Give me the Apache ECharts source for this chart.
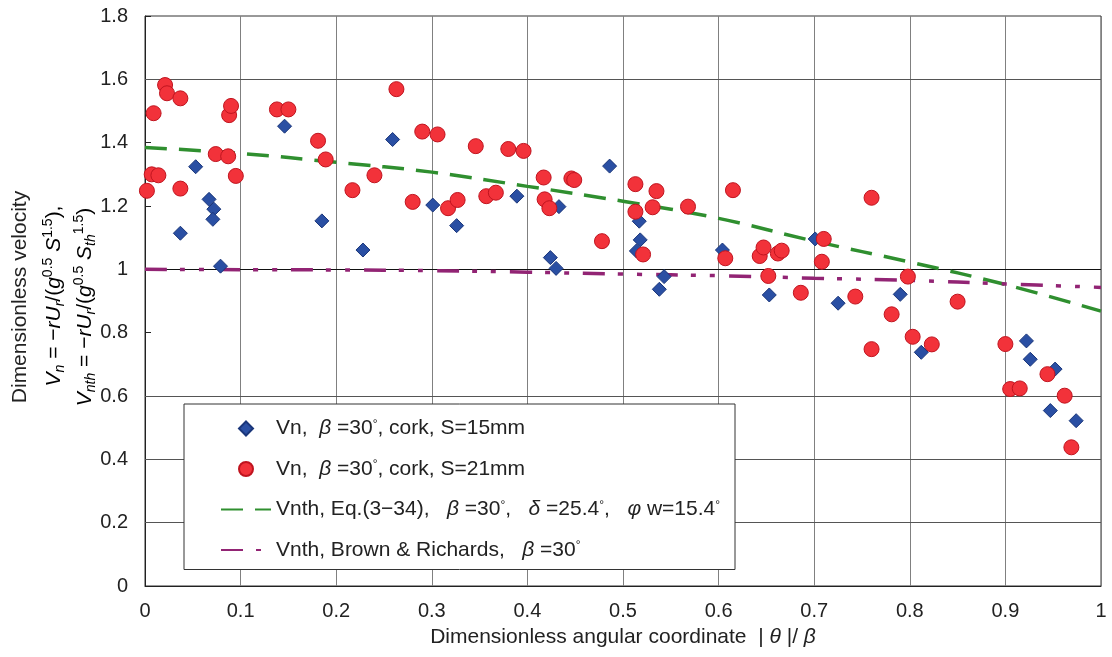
<!DOCTYPE html>
<html><head><meta charset="utf-8">
<script src="https://cdn.jsdelivr.net/npm/echarts@6/dist/echarts.min.js"></script>
<style>html,body{margin:0;padding:0;background:#fff}#c{width:1112px;height:657px}</style>
</head><body><div id="c"></div>
<script>
// ---- data ----
const vnS15 = [
  [0.037,1.114],[0.053,1.324],[0.067,1.221],[0.072,1.190],[0.071,1.158],[0.079,1.010],
  [0.146,1.452],[0.185,1.153],[0.228,1.061],[0.259,1.410],[0.301,1.203],[0.326,1.138],
  [0.389,1.231],[0.424,1.037],[0.430,1.003],[0.433,1.198],[0.486,1.326],[0.514,1.058],
  [0.517,1.152],[0.518,1.093],[0.538,0.937],[0.543,0.977],[0.604,1.061],[0.653,0.919],
  [0.701,1.096],[0.725,0.893],[0.790,0.921],[0.812,0.738],[0.922,0.774],[0.926,0.716],
  [0.947,0.554],[0.952,0.685],[0.974,0.522]
];
const vnS21 = [
  [0.002,1.248],[0.007,1.300],[0.014,1.297],[0.009,1.493],[0.021,1.582],[0.023,1.556],
  [0.037,1.540],[0.037,1.255],[0.074,1.364],[0.087,1.357],[0.088,1.487],[0.090,1.516],
  [0.095,1.295],[0.138,1.505],[0.150,1.505],[0.181,1.406],[0.189,1.347],[0.217,1.250],
  [0.240,1.297],[0.263,1.569],[0.280,1.213],[0.290,1.435],[0.306,1.426],[0.317,1.193],
  [0.327,1.219],[0.346,1.389],[0.357,1.231],[0.367,1.242],[0.380,1.380],[0.396,1.374],
  [0.417,1.290],[0.418,1.221],[0.423,1.193],[0.446,1.287],[0.449,1.282],[0.478,1.089],
  [0.513,1.269],[0.513,1.182],[0.521,1.047],[0.531,1.196],[0.535,1.247],[0.568,1.198],
  [0.607,1.035],[0.615,1.250],[0.643,1.042],[0.647,1.069],[0.652,0.979],[0.662,1.050],
  [0.666,1.059],[0.686,0.926],[0.708,1.024],[0.710,1.096],[0.743,0.914],[0.760,1.226],
  [0.760,0.748],[0.781,0.858],[0.798,0.977],[0.803,0.787],[0.823,0.763],[0.850,0.898],
  [0.900,0.764],[0.905,0.622],[0.915,0.624],[0.944,0.669],[0.962,0.601],[0.969,0.438]
];
const thetaPts = [0,0.1,0.2,0.3,0.4,0.5,0.6,0.7,0.8,0.9,1.0];
const eqVals   = [1.385,1.366,1.338,1.307,1.262,1.215,1.161,1.089,1.023,0.952,0.868];
const brVals   = [1.000,0.999,0.998,0.996,0.991,0.985,0.980,0.972,0.965,0.954,0.943];
const hGridVals = [0.2,0.4,0.6,1.0,1.6];
const names = [
  'Vn, β=30°, cork, S=15mm',
  'Vn, β=30°, cork, S=21mm',
  'Vnth, Eq.(3−34), β=30°, δ=25.4°, φw=15.4°',
  'Vnth, Brown & Richards, β=30°'
];
const legendRich = {};
legendRich[names[0]] = 'Vn,  {i|β} =30{d|°}, cork, S=15mm';
legendRich[names[1]] = 'Vn,  {i|β} =30{d|°}, cork, S=21mm';
legendRich[names[2]] = 'Vnth, Eq.(3−34),   {i|β} =30{d|°},   {i|δ} =25.4{d|°},   {i|φ} w=15.4{d|°}';
legendRich[names[3]] = 'Vnth, Brown & Richards,   {i|β} =30{d|°}';

const FONT = '"Liberation Sans", Arial, sans-serif';
const TXT = '#222';
// legend diamond centred in a 50x14 icon box (bounding points keep its aspect)
const DIAMOND_ICON = 'path://M0,7L0,7M25,0L32,7L25,14L18,7ZM50,7L50,7';

const chart = echarts.init(document.getElementById('c'), null, {renderer:'canvas'});
const mathRich = {
  t:{fontSize:21,fontFamily:FONT,color:TXT,lineHeight:26},
  v:{fontSize:21,fontFamily:FONT,fontStyle:'italic',color:TXT,lineHeight:26},
  vs:{fontSize:14,fontFamily:FONT,fontStyle:'italic',color:TXT,lineHeight:13,verticalAlign:'bottom'},
  sp:{fontSize:14,fontFamily:FONT,color:TXT,lineHeight:13,verticalAlign:'top'}
};
const option = {
  backgroundColor:'#fff',
  animation:false,
  grid:{left:145,right:11,top:16,bottom:71,show:true,borderColor:'#333',borderWidth:1,backgroundColor:'transparent'},
  xAxis:{
    type:'value',min:0,max:1,interval:0.1,
    axisLine:{lineStyle:{color:'#222',width:1}},
    axisTick:{show:false},
    axisLabel:{fontSize:20,fontFamily:FONT,color:TXT,margin:15},
    splitLine:{show:true,lineStyle:{color:'#808080',width:1}},
    name:'Dimensionless angular coordinate  | {i|θ} |/ {i|β}',
    nameLocation:'middle',nameGap:41,
    nameTextStyle:{fontSize:21,fontFamily:FONT,color:TXT,
      rich:{i:{fontSize:21,fontFamily:FONT,fontStyle:'italic',color:TXT}}}
  },
  yAxis:{
    type:'value',min:0,max:1.8,interval:0.2,
    axisLine:{show:true,lineStyle:{color:'#222',width:1}},
    axisTick:{show:true,inside:true,length:6,lineStyle:{color:'#222'}},
    axisLabel:{fontSize:20,fontFamily:FONT,color:TXT,margin:17},
    splitLine:{show:false}
  },
  legend:{
    data:[
      {name:names[0],icon:DIAMOND_ICON},
      {name:names[1],icon:'circle'},
      {name:names[2],itemStyle:{opacity:0}},
      {name:names[3],itemStyle:{opacity:0}}
    ],
    orient:'vertical',left:184,top:404,
    padding:[14,15,9,36],itemWidth:50,itemHeight:14,itemGap:19.5,
    borderColor:'#333',borderWidth:1,backgroundColor:'#fff',z:20,
    formatter:n=>legendRich[n],
    textStyle:{fontSize:21,fontFamily:FONT,color:TXT,lineHeight:20,
      rich:{
        i:{fontSize:21,fontFamily:FONT,fontStyle:'italic',color:TXT,lineHeight:20},
        d:{fontSize:12,fontFamily:FONT,color:TXT,lineHeight:12,verticalAlign:'top'}
      }}
  },
  graphic:[
    {type:'text',x:20,y:297,rotation:Math.PI/2,z:30,
      style:{text:'Dimensionless velocity',fontSize:21,fontFamily:FONT,fill:TXT,align:'center',verticalAlign:'middle'}},
    {type:'text',x:54,y:296,rotation:Math.PI/2,z:30,
      style:{text:'{v|V}{vs|n}{t| = −}{v|rU}{vs|r}{t|/(}{v|g}{sp|0.5}{t| }{v|S}{sp|1.5}{t|),}',
        rich:mathRich,align:'center',verticalAlign:'middle'}},
    {type:'text',x:85,y:307,rotation:Math.PI/2,z:30,
      style:{text:'{v|V}{vs|nth}{t| = −}{v|rU}{vs|r}{t|/(}{v|g}{sp|0.5}{t| }{v|S}{vs|th}{sp|1.5}{t|)}',
        rich:mathRich,align:'center',verticalAlign:'middle'}}
  ],
  series:[
    {name:names[0],type:'scatter',data:vnS15,symbol:'diamond',symbolSize:14,z:7,
      itemStyle:{color:'#2a4fa3',borderColor:'#1a367a',borderWidth:1,opacity:1}},
    {name:names[1],type:'scatter',data:vnS21,symbol:'circle',symbolSize:15,z:8,
      itemStyle:{color:'#f2323a',borderColor:'#c0141f',borderWidth:1,opacity:1}},
    {name:names[2],type:'line',data:thetaPts.map((x,i)=>[x,eqVals[i]]),smooth:0.4,
      symbol:'none',z:6,color:'#2f8f2f',
      lineStyle:{color:'#2f8f2f',width:3.5,type:[22,12]}},
    {name:names[3],type:'line',data:thetaPts.map((x,i)=>[x,brVals[i]]),smooth:0.4,
      symbol:'none',z:6,color:'#922474',
      lineStyle:{color:'#922474',width:3.5,type:[22,13,5,14,5,14]},
      markLine:{silent:true,symbol:['none','none'],label:{show:false},z:5,animation:false,
        lineStyle:{color:'#555',width:1,type:'solid'},
        emphasis:{disabled:true},
        data:hGridVals.map(v=>({yAxis:v,lineStyle:{color:v===1.0?'#111':'#555',width:1,type:'solid'}}))}}
  ]
};
chart.setOption(option);
</script></body></html>
